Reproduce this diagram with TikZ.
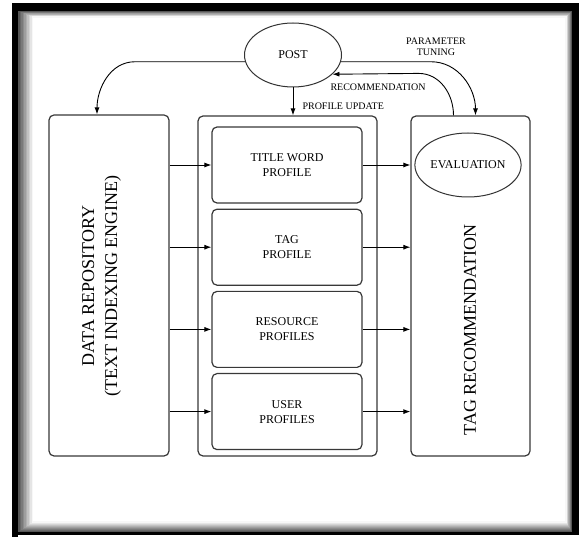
\documentclass[tikz,border=0pt]{standalone}
\usepackage{fontspec}
\setmainfont{Liberation Serif}
\usetikzlibrary{shapes.geometric,positioning,arrows.meta}

\tikzset{
  boite/.style={draw=black!78, line width=1.2pt, rounded corners=5pt},
  ovale/.style={ellipse, draw=black!80, line width=1pt, minimum width=97pt,
    minimum height=64pt, inner sep=0pt, font=\fontsize{12}{15}\selectfont},
  profil/.style={boite, minimum width=150pt, minimum height=76pt, align=center,
    font=\fontsize{12}{15}\selectfont},
  fleche/.style={->, >={Latex[length=7pt,width=5pt]}, line width=0.9pt},
  petit/.style={font=\fontsize{10}{11}\selectfont, align=center},
  grand/.style={font=\fontsize{18}{23}\selectfont, align=center, rotate=90},
}

\begin{document}
\begin{tikzpicture}[x=1pt,y=-1pt]
    \useasboundingbox (0,0) rectangle (579,537);

    % Cadre
    \fill[black] (12,3) rectangle (579,535);
    \fill[black] (12,535) rectangle (18,537);
    \fill[white] (18,11) rectangle (572,532);
    \foreach \i [evaluate=\i as \g using int(66-7*\i)] in {0,...,9}
        \draw[line width=1.6pt, black!\g] (18.8+1.5*\i,11.8+0.6*\i) rectangle (571.2-0.6*\i,531.2-\i);

    % Colonne de gauche
    \node[boite, minimum width=120pt, minimum height=341pt] (depot) at (109,285.5) {};
    \node[grand] (depottxt) at (101.5,286) {DATA REPOSITORY\\(TEXT INDEXING ENGINE)};

    % Colonne du milieu
    \node[boite, minimum width=179pt, minimum height=340pt] (profils) at (287.5,286) {};
    \node[profil] (titre) at (287,165) {TITLE WORD\\PROFILE};
    \node[profil, below=5pt of titre] (tag) {TAG\\PROFILE};
    \node[profil, below=5pt of tag] (ressource) {RESOURCE\\PROFILES};
    \node[profil, below=5pt of ressource] (user) {USER\\PROFILES};

    % Colonne de droite
    \node[boite, minimum width=119pt, minimum height=340pt] (reco) at (470.5,286) {};
    \node[ovale] (eval) at (468,165) {EVALUATION};
    \node[grand] (recotxt) at (470,330) {TAG RECOMMENDATION};

    % Haut
    \node[ovale] (post) at (293,55) {POST};

    % Fleches
    \foreach \p in {titre,tag,ressource,user}{
        \draw[fleche] (depot.east |- \p.west) -- (\p.west);
        \draw[fleche] (\p.east) -- (\p.east -| reco.west);
    }

    \draw[fleche] (post.188) -- ++(-110,0) to[out=180,in=90] ([xshift=-12pt]depot.north);
    \draw[fleche] (post.south) -- (post.south |- profils.north);
    \node[petit, anchor=west] (maj) at (299,106) {PROFILE UPDATE};

    \draw[fleche] (post.-8) -- ++(90,0) to[out=0,in=90] ([xshift=5pt]reco.north);
    \node[petit] (tuning) at (436,47) {PARAMETER\\TUNING};

    \draw[fleche] ([xshift=-17pt]reco.north) to[out=90,in=0] ++(-35,-42) -- (post.-26);
    \node[petit] (recolbl) at (378,87) {RECOMMENDATION};
\end{tikzpicture}
\end{document}
